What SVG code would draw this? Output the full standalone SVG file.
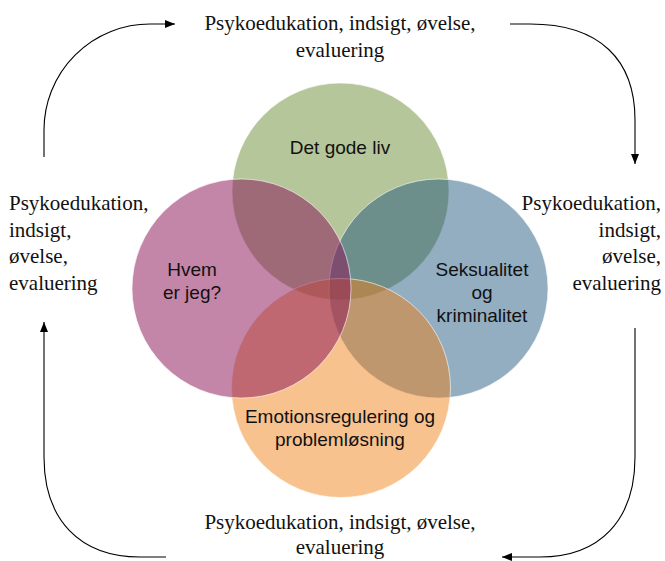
<svg xmlns="http://www.w3.org/2000/svg" width="665" height="561" viewBox="0 0 665 561">
<defs>
<marker id="ah" markerWidth="10" markerHeight="8" refX="10" refY="4" orient="auto" markerUnits="userSpaceOnUse">
<path d="M0,0 L10,4 L0,8 Z" fill="#000"/>
</marker>
<style>
.c{stroke:#ffffff;stroke-opacity:0.6;stroke-width:1}
.lab{font-family:"Liberation Sans",Arial,sans-serif;font-size:19px;fill:#111;text-anchor:middle}
.ser{font-family:"Liberation Serif","Times New Roman",serif;font-size:21px;fill:#111}
.con{fill:none;stroke:#000;stroke-width:1.1}
</style>
</defs>
<rect width="665" height="561" fill="#fff"/>
<g id="node-green">
<circle class="c" cx="340.5" cy="191.5" r="108.5" fill="#b5c69a"/>
</g>
<g id="node-blue">
<circle class="c" cx="438.5" cy="288.5" r="109.5" fill="rgb(30,84,126)" fill-opacity="0.48"/>
</g>
<g id="node-orange">
<circle class="c" cx="341" cy="388" r="109.5" fill="rgb(240,128,20)" fill-opacity="0.48"/>
</g>
<g id="node-purple">
<circle class="c" cx="241.5" cy="288.5" r="109.5" fill="rgb(140,21,88)" fill-opacity="0.52"/>
</g>
<g id="labels">
<text class="lab" x="340" y="154">Det gode liv</text>
<text class="lab" x="192" y="276">Hvem</text>
<text class="lab" x="192" y="299">er jeg?</text>
<text class="lab" x="482" y="276">Seksualitet</text>
<text class="lab" x="482" y="299">og</text>
<text class="lab" x="482" y="322">kriminalitet</text>
<text class="lab" x="340" y="423">Emotionsregulering og</text>
<text class="lab" x="340" y="446">problemløsning</text>
</g>
<g id="node-top">
<text class="ser" x="340" y="30" text-anchor="middle">Psykoedukation, indsigt, øvelse,</text>
<text class="ser" x="340" y="57" text-anchor="middle">evaluering</text>
</g>
<g id="node-left">
<text class="ser" x="9" y="210">Psykoedukation,</text>
<text class="ser" x="9" y="237">indsigt,</text>
<text class="ser" x="9" y="263">øvelse,</text>
<text class="ser" x="9" y="290">evaluering</text>
</g>
<g id="node-right">
<text class="ser" x="661" y="210" text-anchor="end">Psykoedukation,</text>
<text class="ser" x="661" y="237" text-anchor="end">indsigt,</text>
<text class="ser" x="661" y="263" text-anchor="end">øvelse,</text>
<text class="ser" x="661" y="290" text-anchor="end">evaluering</text>
</g>
<g id="node-bottom">
<text class="ser" x="340" y="529" text-anchor="middle">Psykoedukation, indsigt, øvelse,</text>
<text class="ser" x="340" y="554" text-anchor="middle">evaluering</text>
</g>
<g id="connectors">
<path class="con" d="M44,157 L44,130 A106,106 0 0 1 150,24 L175,24" marker-end="url(#ah)"/>
<path class="con" d="M510,24 L530,24 C600,24 635,60 635,120 L635,164" marker-end="url(#ah)"/>
<path class="con" d="M635,328 L635,457 C635,520 600,557 540,557 L502,557" marker-end="url(#ah)"/>
<path class="con" d="M166,557 L140,557 C80,557 44,520 44,457 L44,322" marker-end="url(#ah)"/>
</g>
</svg>
